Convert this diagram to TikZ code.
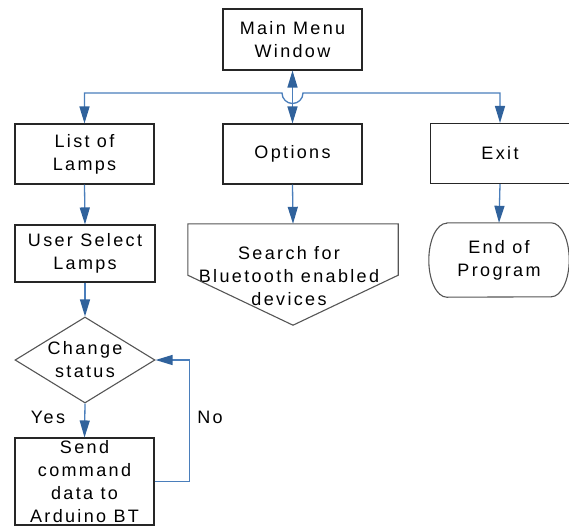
\documentclass[tikz,border=0pt]{standalone}
\usepackage{fontspec}
\setmainfont[LetterSpace=13]{Liberation Sans}
\usetikzlibrary{arrows.meta,shapes.geometric}
\definecolor{linkblue}{HTML}{4A7EBB}
\definecolor{tipblue}{HTML}{30629C}
\definecolor{edgegray}{HTML}{555555}

\begin{document}
\begin{tikzpicture}[x=1pt,y=-1pt,font=\fontsize{18}{23}\selectfont,
  box/.style={draw=black!85,line width=1.1pt,align=center,inner sep=0pt,minimum width=139pt,minimum height=60pt},
  shapeline/.style={draw=edgegray,line width=1.1pt},
  link/.style={draw=linkblue,line width=1.3pt,>={Triangle[length=17pt,width=10pt,color=tipblue]}}]
\useasboundingbox (0,0) rectangle (569,527);
%\draw[step=10,gray,very thin] (0,0) grid (569,527);
\node[box,minimum height=61pt] (main) at (292.5,39.5) {Main Menu\\Window};
\node[box] (list) at (84.5,154) {List of\\Lamps};
\node[box] (options) at (292.5,154) {Options};
\node[box] (exit) at (500,153.5) {Exit};
\node[box,minimum width=140pt,minimum height=57pt] (user) at (85,253.5) {User Select\\Lamps};
\node[diamond,shapeline,minimum width=140pt,minimum height=86pt,inner sep=0pt,
  label={[align=center]center:Change\\status}] (change) at (85,360) {};
\node[box,minimum height=87pt] (send) at (84.5,481.5) {Send\\command\\data to\\Arduino BT};
\node[inner sep=0pt,minimum width=210pt,minimum height=51pt,
  label={[align=center,xshift=-4pt,yshift=-26.5pt]center:Search for\\Bluetooth enabled\\devices}] (search) at (293,249.5) {};
\draw[shapeline] (search.north west) -- (search.north east) -- (search.south east)
  -- ([yshift=-50pt]search.south) -- (search.south west) -- cycle;
\node[inner sep=0pt,minimum width=140pt,minimum height=74pt,align=center] (endp) at (499,260) {End of\\Program};
\draw[shapeline] ([xshift=18pt]endp.north west) -- ([xshift=-18pt]endp.north east)
  arc[start angle=90,end angle=-90,x radius=18pt,y radius=37pt]
  -- ([xshift=18pt]endp.south west)
  arc[start angle=270,end angle=90,x radius=18pt,y radius=37pt] -- cycle;
\node (yes) at (48,417) {Yes};
\node (no) at (210,417) {No};
\coordinate (hopL) at (282,93);
\draw[link,<->] (list.north) |- (hopL) arc[start angle=180,end angle=0,radius=10.5] -| (exit.north);
\draw[link,<->] (main.south) -- (options.north);
\draw[link,->] (list.south) -- (user.north);
\draw[link,->] (user.south) -- (change.north);
\draw[link,->] (change.south) -- (send.north);
\draw[link,->] (send.east) -- ++(35,0) |- (change.east);
\draw[link,->] (options.south) -- (search.north);
\draw[link,->] (exit.south) -- (endp.north);
\end{tikzpicture}
\end{document}
